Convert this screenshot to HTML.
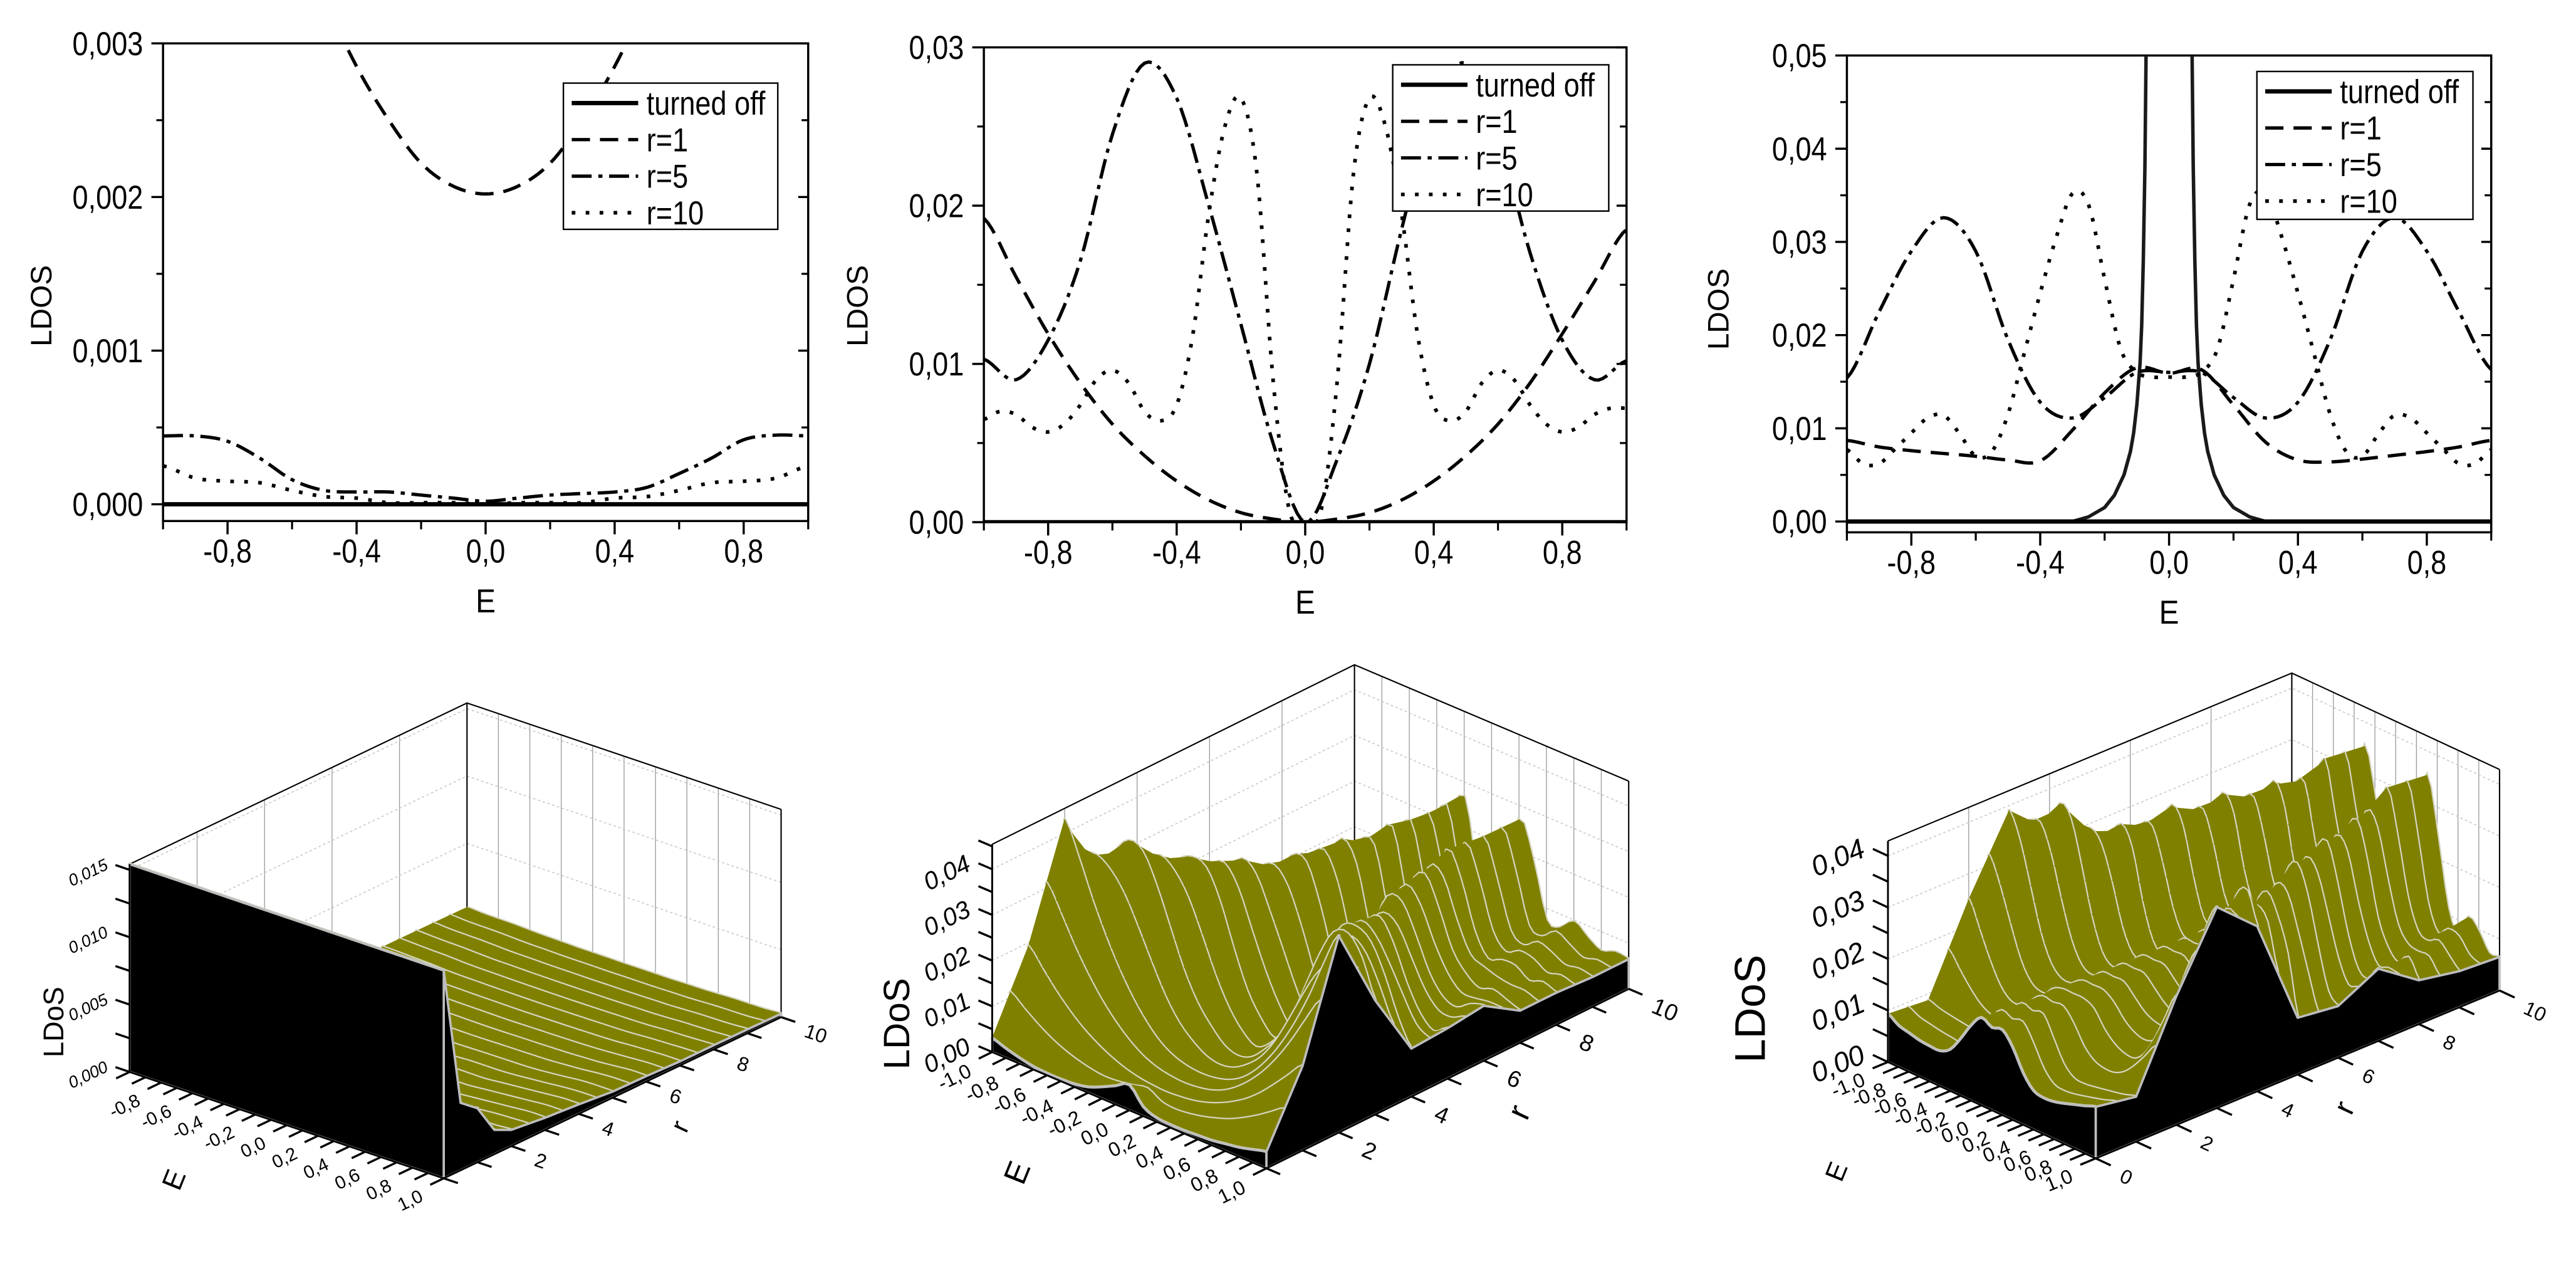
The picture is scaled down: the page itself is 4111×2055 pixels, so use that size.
<!DOCTYPE html>
<html><head><meta charset="utf-8"><title>LDOS plots</title>
<style>html,body{margin:0;padding:0;background:#fff}svg{display:block}</style></head>
<body>
<svg id="fig" xmlns="http://www.w3.org/2000/svg" width="4111" height="2055" viewBox="0 0 1550 775" preserveAspectRatio="none" font-family="Liberation Sans, sans-serif">
<rect x="0" y="0" width="1550" height="775" fill="#fff"/>
</svg>
<script>
// ---------- DATA: 2D plots ----------
const E10 = [-1,-0.9,-0.8,-0.7,-0.6,-0.5,-0.4,-0.3,-0.2,-0.1,0,0.1,0.2,0.3,0.4,0.5,0.6,0.7,0.8,0.9,1];
const E05 = [-1,-0.95,-0.9,-0.85,-0.8,-0.75,-0.7,-0.65,-0.6,-0.55,-0.5,-0.45,-0.4,-0.35,-0.3,-0.25,-0.2,-0.15,-0.1,-0.05,0,0.05,0.1,0.15,0.2,0.25,0.3,0.35,0.4,0.45,0.5,0.55,0.6,0.65,0.7,0.75,0.8,0.85,0.9,0.95,1];
const legendLabels = ["turned off","r=1","r=5","r=10"];

const p1OffE = [-1,1];
const p1OffV = [0,0];
const p1R1 = [.0070,.0061,.0052,.0045,.0039,.0033,.00285,.0025,.00222,.00207,.00202,.00207,.00222,.0025,.00285,.0033,.0039,.0045,.0052,.0061,.0070];
const p1R5 = [.000445,.000445,.00041,.0003,.00016,.00009,.00008,.00008,.00006,.00004,.00002,.00004,.00006,.00007,.00008,.00011,.0002,.0003,.00042,.00045,.000445];
const p1R10 = [.00025,.00017,.00015,.00014,.00009,.00005,.00004,.00001,.00001,.00001,0,.00001,.00001,.00001,.00004,.00005,.00009,.00014,.00015,.00017,.00025];
const p1YTicks = [0,0.001,0.002,0.003];
const p1YLabels = ["0,000","0,001","0,002","0,003"];

const p2OffE = [-1,1];
const p2OffV = [0,0];
const p2R1 = [.0192,.0155,.0119,.0088,.0062,.0042,.0026,.0014,.0006,.0002,0,.0002,.0006,.0014,.0026,.0042,.0062,.0088,.0119,.0152,.0185];
const p2R5 = [.0103,.0090,.0115,.0165,.0245,.0290,.0268,.0200,.0125,.0050,0,.0040,.0100,.0185,.0262,.0290,.0245,.0170,.0115,.0090,.0102];
const p2R10 = [.0065,.0070,.0068,.0060,.0057,.0062,.0074,.0090,.0096,.0088,.0070,.0064,.0074,.0118,.0195,.0250,.0268,.0220,.0090,.0008,0,.0008,.0090,.0220,.0268,.0250,.0195,.0118,.0074,.0064,.0070,.0088,.0096,.0090,.0074,.0062,.0057,.0060,.0068,.0072,.0072];
const p2YTicks = [0,0.01,0.02,0.03];
const p2YLabels = ["0,00","0,01","0,02","0,03"];

const p3OffE = [-1,-0.3,-0.25,-0.2,-0.17,-0.14,-0.12,-0.11,-0.1,-0.09,-0.085,-0.08,-0.075,-0.07,0,0.07,0.075,0.08,0.085,0.09,0.1,0.11,0.12,0.14,0.17,0.2,0.25,0.3,1];
const p3OffV = [0,0,.0005,.0015,.0028,.005,.0075,.0095,.0125,.017,.021,.028,.038,.055,.3,.055,.038,.028,.021,.017,.0125,.0095,.0075,.005,.0028,.0015,.0005,0,0];
const p3R1 = [.0087,.0080,.0076,.0073,.0070,.0066,.0065,.0098,.0138,.0165,.0159,.0163,.0125,.0085,.0066,.0064,.0067,.0071,.0075,.0080,.0087];
const p3R5 = [.0154,.0225,.0290,.0326,.0290,.0195,.0128,.0111,.0133,.0160,.0160,.0160,.0133,.0111,.0128,.0195,.0290,.0326,.0290,.0225,.0163];
const p3R10 = [.0077,.0062,.0062,.0078,.0095,.0111,.0114,.0094,.0070,.0075,.0115,.0180,.0245,.0305,.0352,.0340,.0260,.0185,.0160,.0155,.0155,.0155,.0160,.0185,.0260,.0340,.0352,.0305,.0245,.0180,.0115,.0075,.0070,.0094,.0114,.0111,.0095,.0078,.0062,.0062,.0077];
const p3YTicks = [0,0.01,0.02,0.03,0.04,0.05];
const p3YLabels = ["0,00","0,01","0,02","0,03","0,04","0,05"];

const xTicks = [-0.8,-0.4,0,0.4,0.8];
const xLabels = ["-0,8","-0,4","0,0","0,4","0,8"];

// ---------- DATA: 3D surfaces ----------
const s4R = [0,0.5,1,1.5,2,3,4,5,6,7,8,9,10];
const s4Rows = [
 [.0155,.0155,.0155,.0155,.0155,.0155,.0155,.0155,.0155,.0155,.0155,.0155,.0155,.0155,.0155,.0155,.0155,.0155,.0155,.0155,.0155],
 [.0050,.0048,.0046,.0045,.0044,.0043,.0042,.0042,.0041,.0041,.0041,.0041,.0041,.0042,.0042,.0043,.0044,.0045,.0046,.0048,.0050],
 [.0040,.0036,.0032,.0029,.0027,.0025,.0024,.0022,.0021,.0020,.0020,.0020,.0021,.0022,.0024,.0025,.0027,.0029,.0032,.0036,.0040],
 [.0018,.0017,.0016,.0015,.0014,.0013,.0012,.0011,.0011,.0010,.0010,.0010,.0011,.0011,.0012,.0013,.0014,.0015,.0016,.0017,.0018],
 [.0012,.0011,.0011,.0010,.0009,.0008,.0008,.0007,.0007,.0006,.0006,.0006,.0007,.0007,.0008,.0008,.0009,.0010,.0011,.0011,.0012],
 [.0009,.0009,.0008,.0007,.0006,.0005,.0004,.0004,.0003,.0003,.0003,.0003,.0003,.0004,.0004,.0005,.0006,.0007,.0008,.0009,.0009],
 [.0007,.0007,.0006,.0005,.0004,.0003,.0002,.0002,.0002,.0001,.0001,.0001,.0002,.0002,.0002,.0003,.0004,.0005,.0006,.0007,.0007],
 [.000445,.000445,.00041,.0003,.00016,.00009,.00008,.00008,.00006,.00004,.00002,.00004,.00006,.00007,.00008,.00011,.0002,.0003,.00042,.00045,.000445],
 [.0004,.0004,.0003,.0002,.00015,.0001,.00008,.00006,.00005,.00003,.00002,.00003,.00005,.00006,.00008,.0001,.00015,.0002,.0003,.0004,.0004],
 [.0003,.0003,.00025,.0002,.00012,.00008,.00006,.00004,.00003,.00002,.00001,.00002,.00003,.00004,.00006,.00008,.00012,.0002,.00025,.0003,.0003],
 [.0003,.00025,.0002,.00017,.0001,.00006,.00005,.00003,.00002,.00001,.00001,.00001,.00002,.00003,.00005,.00006,.0001,.00017,.0002,.00025,.0003],
 [.00028,.0002,.00017,.00015,.0001,.00005,.00004,.00002,.00001,.00001,0,.00001,.00001,.00002,.00004,.00005,.0001,.00015,.00017,.0002,.00028],
 [.00025,.00017,.00015,.00014,.00009,.00005,.00004,.00001,.00001,.00001,0,.00001,.00001,.00001,.00004,.00005,.00009,.00014,.00015,.00017,.00025]
];
const s5R = [0,1,2,3,4,5,6,7,8,9,10];
const s5Rows = [
 [.0030,.0020,.0012,.0006,.0004,.0004,.0006,.0012,.0025,.0040,.0055,.0020,.0008,.0006,.0006,.0008,.0010,.0015,.0020,.0028,.0036],
 [.0192,.0155,.0119,.0088,.0062,.0042,.0026,.0014,.0006,.0002,0,.0002,.0006,.0014,.0026,.0042,.0062,.0088,.0119,.0152,.0185],
 [.0430,.0360,.0280,.0210,.0150,.0100,.0060,.0030,.0012,.0003,0,.0003,.0012,.0030,.0060,.0100,.0150,.0210,.0280,.0360,.0430],
 [.0250,.0330,.0370,.0360,.0300,.0220,.0140,.0080,.0040,.0010,0,.0010,.0040,.0080,.0140,.0220,.0300,.0360,.0370,.0330,.0250],
 [.0105,.0160,.0240,.0300,.0320,.0310,.0250,.0160,.0080,.0030,0,.0030,.0080,.0160,.0250,.0310,.0320,.0300,.0240,.0160,.0105],
 [.0103,.0090,.0115,.0165,.0245,.0290,.0268,.0200,.0125,.0050,0,.0040,.0100,.0185,.0262,.0290,.0245,.0170,.0115,.0090,.0110],
 [.0120,.0110,.0090,.0100,.0140,.0210,.0270,.0270,.0190,.0080,0,.0080,.0190,.0270,.0270,.0210,.0140,.0100,.0090,.0110,.0120],
 [.0100,.0080,.0090,.0080,.0100,.0140,.0220,.0280,.0240,.0110,0,.0110,.0240,.0280,.0220,.0140,.0100,.0080,.0090,.0080,.0070],
 [.0070,.0080,.0070,.0090,.0090,.0080,.0130,.0230,.0280,.0140,0,.0140,.0280,.0230,.0130,.0080,.0090,.0090,.0070,.0080,.0070],
 [.0065,.0070,.0065,.0080,.0090,.0070,.0090,.0190,.0270,.0160,0,.0160,.0270,.0190,.0090,.0070,.0090,.0080,.0065,.0070,.0065],
 [.0065,.0068,.0057,.0074,.0096,.0070,.0074,.0195,.0268,.0090,0,.0090,.0268,.0195,.0074,.0070,.0096,.0074,.0057,.0068,.0065]
];
const s6R = [0,1,2,3,4,5,6,7,8,9,10];
const s6Rows = [
 [.0093,.0080,.0075,.0070,.0068,.0068,.0080,.0110,.0145,.0170,.0160,.0165,.0140,.0100,.0075,.0070,.0072,.0078,.0085,.0092,.0100],
 [.0087,.0080,.0076,.0073,.0070,.0066,.0065,.0098,.0138,.0165,.0159,.0163,.0125,.0085,.0066,.0064,.0067,.0071,.0075,.0080,.0087],
 [.0250,.0200,.0150,.0110,.0090,.0090,.0100,.0120,.0150,.0160,.0160,.0160,.0150,.0120,.0100,.0090,.0090,.0110,.0150,.0200,.0250],
 [.0390,.0340,.0260,.0180,.0130,.0110,.0110,.0120,.0140,.0160,.0160,.0160,.0140,.0120,.0110,.0110,.0130,.0180,.0260,.0340,.0390],
 [.0320,.0380,.0360,.0280,.0190,.0130,.0110,.0120,.0140,.0160,.0160,.0160,.0140,.0120,.0110,.0130,.0190,.0280,.0360,.0380,.0320],
 [.0154,.0225,.0290,.0326,.0290,.0195,.0128,.0111,.0133,.0160,.0160,.0160,.0133,.0111,.0128,.0195,.0290,.0326,.0290,.0225,.0110],
 [.0100,.0120,.0200,.0290,.0340,.0310,.0220,.0150,.0140,.0160,.0160,.0160,.0140,.0150,.0220,.0310,.0340,.0290,.0200,.0120,.0100],
 [.0140,.0110,.0120,.0180,.0270,.0340,.0310,.0210,.0150,.0160,.0160,.0160,.0150,.0210,.0310,.0340,.0270,.0180,.0120,.0110,.0140],
 [.0090,.0120,.0100,.0120,.0170,.0270,.0340,.0300,.0190,.0160,.0160,.0160,.0190,.0300,.0340,.0270,.0170,.0120,.0100,.0120,.0085],
 [.0070,.0090,.0110,.0100,.0110,.0170,.0280,.0360,.0260,.0170,.0160,.0170,.0260,.0360,.0280,.0170,.0110,.0100,.0110,.0090,.0070],
 [.0077,.0062,.0095,.0114,.0070,.0115,.0245,.0352,.0260,.0160,.0155,.0160,.0260,.0352,.0245,.0115,.0070,.0114,.0095,.0062,.0065]
];
const s4ZTicks = [0,0.005,0.010,0.015];
const s4ZLabels = ["0,000","0,005","0,010","0,015"];
const s5ZTicks = [0,0.01,0.02,0.03,0.04];
const s5ZLabels = ["0,00","0,01","0,02","0,03","0,04"];
const s6ZTicks = [0,0.01,0.02,0.03,0.04];
const s6ZLabels = ["0,00","0,01","0,02","0,03","0,04"];
const eTickVals = [-1,-0.8,-0.6,-0.4,-0.2,0,0.2,0.4,0.6,0.8,1];
const eTickLabels = ["-1,0","-0,8","-0,6","-0,4","-0,2","0,0","0,2","0,4","0,6","0,8","1,0"];
const rTickVals = [0,2,4,6,8,10];
const rTickLabels = ["0","2","4","6","8","10"];

// ---------- helpers ----------
const NS = 'http://www.w3.org/2000/svg';
const svg = document.getElementById('fig');
function mk(tag, attrs, parent){ const e=document.createElementNS(NS,tag); for(const k in attrs) e.setAttribute(k,attrs[k]); (parent||svg).appendChild(e); return e; }
function txt(parent, x, y, s, size, anchor, rot, sx, extra){
  const t = mk('text',{'font-size':size,'text-anchor':anchor||'middle',transform:`translate(${x.toFixed(2)},${y.toFixed(2)}) rotate(${rot||0}) scale(${sx||1},1)`,fill:'#000'},parent);
  if(extra) for(const k in extra) t.setAttribute(k,extra[k]);
  t.textContent = s; return t;
}
function crSample(xs, ys, n){
  const X=[],Y=[];
  for(let i=0;i<xs.length-1;i++){
    const p0=ys[Math.max(0,i-1)],p1=ys[i],p2=ys[i+1],p3=ys[Math.min(ys.length-1,i+2)];
    for(let s=0;s<n;s++){
      const t=s/n,t2=t*t,t3=t2*t;
      const v=0.5*((2*p1)+(-p0+p2)*t+(2*p0-5*p1+4*p2-p3)*t2+(-p0+3*p1-3*p2+p3)*t3);
      X.push(xs[i]+(xs[i+1]-xs[i])*t); Y.push(Math.max(0,v));
    }
  }
  X.push(xs[xs.length-1]); Y.push(ys[ys.length-1]); return [X,Y];
}

// ---------- 2D plot ----------
function plot2D(cfg){
  const g = mk('g',{});
  
  
  const xs = v => cfg.x0 + (v+1)/2*(cfg.x1-cfg.x0);
  const ys = v => cfg.yb + (v-cfg.ymin)/(cfg.ymax-cfg.ymin)*(cfg.yt-cfg.yb);
  const cid = cfg.name+'-clip';
  const cp = mk('clipPath',{id:cid},g);
  mk('rect',{x:cfg.x0,y:cfg.yt,width:cfg.x1-cfg.x0,height:cfg.yb-cfg.yt},cp);
  const frame = mk('rect',{x:cfg.x0,y:cfg.yt,width:cfg.x1-cfg.x0,height:cfg.yb-cfg.yt,fill:'none',stroke:'#000','stroke-width':1.3},g);
  
  
  const step = cfg.yTicks[1]-cfg.yTicks[0];
  for(let i=0;i<cfg.yTicks.length;i++){
    const v=cfg.yTicks[i], y=ys(v);
    const t1 = mk('line',{x1:cfg.x0-7,x2:cfg.x0,y1:y,y2:y,stroke:'#000','stroke-width':1.3},g);
    
    
    const t2 = mk('line',{x1:cfg.x1-6,x2:cfg.x1,y1:y,y2:y,stroke:'#000','stroke-width':1.3},g);
    
    
    const lb = txt(g, cfg.x0-12, y+7, cfg.yLabels[i], 20, 'end', 0, 0.85);
    
    
    const mv = v+step/2;
    if(mv < cfg.ymax){
      const ym=ys(mv);
      const m1 = mk('line',{x1:cfg.x0-4,x2:cfg.x0,y1:ym,y2:ym,stroke:'#000','stroke-width':1.2},g);
      
      
      const m2 = mk('line',{x1:cfg.x1-4,x2:cfg.x1,y1:ym,y2:ym,stroke:'#000','stroke-width':1.2},g);
      
      
    }
  }
  for(let i=0;i<xTicks.length;i++){
    const x=xs(xTicks[i]);
    const t = mk('line',{x1:x,x2:x,y1:cfg.yb,y2:cfg.yb+8,stroke:'#000','stroke-width':1.3},g);
    
    
    const lb = txt(g, x, cfg.yb+25, xLabels[i], 20, 'middle', 0, 0.85);
    
    
  }
  for(let v=-1; v<=1.001; v+=0.4){
    const x=xs(v);
    const t = mk('line',{x1:x,x2:x,y1:cfg.yb,y2:cfg.yb+5,stroke:'#000','stroke-width':1.2},g);
    
    
  }
  const xt = txt(g, (cfg.x0+cfg.x1)/2, cfg.yb+55, 'E', 20, 'middle', 0, 0.9);
  
  
  const yt = txt(g, cfg.ylx, cfg.yly, 'LDOS', 18, 'middle', -90, 1);
  
  
  const styles = [
    {dash:'',w:2.6,col:'#000'},
    {dash:'11 6',w:2,col:'#000'},
    {dash:'12 4 2.5 4',w:2,col:'#000'},
    {dash:'2.2 6.2',w:2.2,col:'#000'}
  ];
  const names = ['series-turned-off','series-r1','series-r5','series-r10'];
  const dg = mk('g',{'clip-path':`url(#${cid})`},g);
  for(let s=0;s<4;s++){
    const sr = cfg.series[s];
    let X=sr.E, Y=sr.V;
    if(sr.smooth){ const r=crSample(sr.E, sr.V, 8); X=r[0]; Y=r[1]; }
    let d='';
    for(let i=0;i<X.length;i++) d += (i?'L':'M') + xs(X[i]).toFixed(2)+','+ys(Y[i]).toFixed(2);
    const st = s===0 && sr.thin ? {dash:'',w:2.1,col:'#1a1a1a'} : styles[s];
    const p = mk('path',{d:d,fill:'none',stroke:st.col,'stroke-width':st.w,'stroke-dasharray':st.dash,'stroke-linejoin':'round'},dg);
    
    
    if(s===0 && sr.thin){
      const p2 = mk('path',{d:'M'+cfg.x0+','+ys(0)+'L'+cfg.x1+','+ys(0),fill:'none',stroke:'#000','stroke-width':2.6},dg);
      
      
    }
  }
  const L = cfg.legend;
  const lg = mk('g',{},g);
  
  
  const lb = mk('rect',{x:L.x,y:L.y,width:L.w,height:L.h,fill:'#fff',stroke:'#000','stroke-width':0.9},lg);
  
  
  for(let s=0;s<4;s++){
    const yy = L.y+12+s*22;
    const ln = mk('line',{x1:L.x+5,x2:L.x+45,y1:yy,y2:yy,stroke:'#000','stroke-width':styles[s].w,'stroke-dasharray':styles[s].dash},lg);
    
    
    const lt = txt(lg, L.x+50, yy+7, legendLabels[s], 20, 'start', 0, 0.85);
    
    
  }
}

plot2D({name:'ldos-plot-1',x0:98.1,x1:486.3,yt:26.1,yb:313.5,ymin:-0.000109,ymax:0.003,yTicks:p1YTicks,yLabels:p1YLabels,ylx:31,yly:184,
  series:[{E:p1OffE,V:p1OffV},{E:E10,V:p1R1,smooth:1},{E:E10,V:p1R5,smooth:1},{E:E10,V:p1R10,smooth:1}],
  legend:{x:339,y:50,w:129,h:88}});
plot2D({name:'ldos-plot-2',x0:592,x1:978.7,yt:28.5,yb:314.2,ymin:0,ymax:0.03,yTicks:p2YTicks,yLabels:p2YLabels,ylx:522,yly:184,
  series:[{E:p2OffE,V:p2OffV},{E:E10,V:p2R1,smooth:1},{E:E10,V:p2R5,smooth:1},{E:E05,V:p2R10,smooth:1}],
  legend:{x:838,y:39,w:130,h:88}});
plot2D({name:'ldos-plot-3',x0:1111.3,x1:1499,yt:33.4,yb:320.3,ymin:-0.00116,ymax:0.05,yTicks:p3YTicks,yLabels:p3YLabels,ylx:1040,yly:186,
  series:[{E:p3OffE,V:p3OffV,thin:1},{E:E10,V:p3R1,smooth:1},{E:E10,V:p3R5,smooth:1},{E:E05,V:p3R10,smooth:1}],
  legend:{x:1358,y:43,w:130,h:89}});

// ---------- 3D surfaces ----------
function surf3D(c){
  const g = mk('g',{});
  
  
  const P = (E,r,z) => [c.O[0]+c.eV[0]*(E+1)/2+c.rV[0]*r/10, c.O[1]+c.eV[1]*(E+1)/2+c.rV[1]*r/10 - z*c.zs];
  const pt = p => p[0].toFixed(2)+','+p[1].toFixed(2);
  const ztop = c.boxPx/c.zs;
  const eL = Math.hypot(c.eV[0],c.eV[1]), rL = Math.hypot(c.rV[0],c.rV[1]);
  const eu=[c.eV[0]/eL,c.eV[1]/eL], ru=[c.rV[0]/rL,c.rV[1]/rL];
  const rAng = Math.atan2(c.rV[1],c.rV[0])*180/Math.PI, eAng = Math.atan2(c.eV[1],c.eV[0])*180/Math.PI;
  for(const rv of [2,4,6,8]){
    const a=P(-1,rv,0), b=P(-1,rv,ztop);
    const l = mk('line',{x1:a[0],y1:a[1],x2:b[0],y2:b[1],stroke:'#9a9a9a','stroke-width':0.5},g);
    
    
  }
  for(let ev=-0.8; ev<=0.81; ev+=0.2){
    const a=P(ev,10,0), b=P(ev,10,ztop);
    const l = mk('line',{x1:a[0],y1:a[1],x2:b[0],y2:b[1],stroke:'#9a9a9a','stroke-width':0.5},g);
    
    
  }
  for(let i=1;i<c.zTicks.length;i++){
    const zv=c.zTicks[i]; if(zv>=ztop) continue;
    const a=P(-1,0,zv), b=P(-1,10,zv), d=P(1,10,zv);
    const l = mk('polyline',{points:pt(a)+' '+pt(b)+' '+pt(d),fill:'none',stroke:'#c8c8c8','stroke-width':0.6,'stroke-dasharray':'1.5 1.5'},g);
    
    
  }
  const bx = mk('polyline',{points:[P(-1,0,ztop),P(-1,10,ztop),P(1,10,ztop)].map(pt).join(' '),fill:'none',stroke:'#000','stroke-width':0.8},g);
  
  
  for(const q of [[-1,10],[1,10]]){
    const a=P(q[0],q[1],0), b=P(q[0],q[1],ztop);
    const l = mk('line',{x1:a[0],y1:a[1],x2:b[0],y2:b[1],stroke:'#000','stroke-width':0.8},g);
    
    
  }
  const RR=[];
  for(let k=0;k<=20;k++){
    const r=k*0.5;
    let j=0; while(j<c.rVals.length-2 && c.rVals[j+1]<r) j++;
    const t=(r-c.rVals[j])/(c.rVals[j+1]-c.rVals[j]);
    const zr=E10.map((_,i)=>c.rows[j][i]*(1-t)+c.rows[j+1][i]*t);
    const f=crSample(E10, zr, 3);
    RR.push({r:r,E:f[0],z:f[1].map(v=>Math.min(v,ztop))});
  }
  const sg = mk('g',{},g);
  
  
  const lineCol='#d4d4c0', olive='#808000';
  const last=RR[RR.length-1];
  let dl='';
  for(let k=0;k<last.E.length;k++) dl+=(k?'L':'M')+pt(P(last.E[k],last.r,last.z[k]));
  const fl = mk('path',{d:dl,fill:'none',stroke:lineCol,'stroke-width':2.1},sg);
  
  
  for(let j=RR.length-2;j>=0;j--){
    const A=RR[j], B=RR[j+1];
    for(let k=0;k<A.E.length-1;k++){
      const p1=P(A.E[k],A.r,A.z[k]), p2=P(A.E[k+1],A.r,A.z[k+1]), p3=P(B.E[k+1],B.r,B.z[k+1]), p4=P(B.E[k],B.r,B.z[k]);
      const q = mk('polygon',{points:[p1,p2,p3,p4].map(pt).join(' '),fill:olive,stroke:olive,'stroke-width':0.4},sg);
      
      
      const l = mk('line',{x1:p1[0],y1:p1[1],x2:p2[0],y2:p2[1],stroke:lineCol,'stroke-width':2.1,'stroke-linecap':'round'},sg);
      
      
    }
  }
  const n=RR[0].E.length-1;
  let sp=[P(1,0,0),P(1,10,0)];
  for(let j=RR.length-1;j>=0;j--) sp.push(P(1,RR[j].r,RR[j].z[n]));
  const sf = mk('polygon',{points:sp.map(pt).join(' '),fill:'#000',stroke:'#bdbdbd','stroke-width':1.4,'stroke-linejoin':'round'},g);
  
  
  let fp=[P(-1,0,0),P(1,0,0)];
  for(let k=n;k>=0;k--) fp.push(P(RR[0].E[k],0,RR[0].z[k]));
  const ff = mk('polygon',{points:fp.map(pt).join(' '),fill:'#000',stroke:'#bdbdbd','stroke-width':1.4,'stroke-linejoin':'round'},g);
  
  
  const za=P(-1,0,0), zb=P(-1,0,ztop);
  const zl = mk('line',{x1:za[0],y1:za[1],x2:zb[0],y2:zb[1],stroke:'#000','stroke-width':1.1},g);
  
  
  const zstep=c.zTicks[1]-c.zTicks[0];
  for(let v=0; v<=ztop+1e-9; v+=zstep/2){
    const a=P(-1,0,v);
    const l = mk('line',{x1:a[0],y1:a[1],x2:a[0]-eu[0]*c.tl,y2:a[1]-eu[1]*c.tl,stroke:'#000','stroke-width':1.3},g);
    
    
  }
  for(let i=0;i<c.zTicks.length;i++){
    const a=P(-1,0,c.zTicks[i]);
    const t = txt(g, a[0]-eu[0]*(c.tl+4), a[1]-eu[1]*(c.tl+4)+c.zfs*0.35, c.zLabels[i], c.zfs, 'end', rAng, 1, {'font-style':'italic'});
    
    
  }
  const ea=P(-1,0,0), eb=P(1,0,0);
  const el = mk('line',{x1:ea[0],y1:ea[1],x2:eb[0],y2:eb[1],stroke:'#000','stroke-width':1.1},g);
  
  
  for(let k=0;k<=20;k++){
    const a=P(-1+k*0.1,0,0);
    const l = mk('line',{x1:a[0],y1:a[1],x2:a[0]-ru[0]*c.tl,y2:a[1]-ru[1]*c.tl,stroke:'#000','stroke-width':1.3},g);
    
    
  }
  for(let i=c.eFirst;i<eTickVals.length;i++){
    const a=P(eTickVals[i],0,0);
    const t = txt(g, a[0]-ru[0]*(c.tl+4), a[1]-ru[1]*(c.tl+4)+c.efs*0.7, eTickLabels[i], c.efs, 'end', rAng, 1);
    
    
  }
  const ra=P(1,0,0), rb=P(1,10,0);
  const rl = mk('line',{x1:ra[0],y1:ra[1],x2:rb[0],y2:rb[1],stroke:'#000','stroke-width':1.1},g);
  
  
  for(let k=0;k<=10;k++){
    const a=P(1,k,0);
    const l = mk('line',{x1:a[0],y1:a[1],x2:a[0]+eu[0]*c.tl,y2:a[1]+eu[1]*c.tl,stroke:'#000','stroke-width':1.3},g);
    
    
  }
  for(let i=c.rFirst;i<rTickVals.length;i++){
    const a=P(1,rTickVals[i],0);
    const t = txt(g, a[0]+eu[0]*(c.tl+5), a[1]+eu[1]*(c.tl+5)+c.rfs*0.6, rTickLabels[i], c.rfs, 'start', eAng, 1);
    
    
  }
  const t1 = txt(g, c.ldos[0], c.ldos[1], 'LDoS', c.ldos[2], 'middle', -90, 1);
  
  
  const t2 = txt(g, c.et[0], c.et[1], 'E', c.et[2], 'middle', -68, 1);
  
  
  const t3 = txt(g, c.rt[0], c.rt[1], 'r', c.rt[2], 'middle', -65, 1);
  
  
}

surf3D({name:'surface-plot-1',O:[78,645],eV:[189,64],rV:[203,-97],zs:8107,boxPx:125,rVals:s4R,rows:s4Rows,
  zTicks:s4ZTicks,zLabels:s4ZLabels,tl:9,zfs:10,efs:11,rfs:12,eFirst:1,rFirst:1,
  ldos:[38,615,17],et:[110,712,17],rt:[414,680,16]});
surf3D({name:'surface-plot-2',O:[597,633],eV:[165,70],rV:[218,-108],zs:2750,boxPx:125,rVals:s5R,rows:s5Rows,
  zTicks:s5ZTicks,zLabels:s5ZLabels,tl:9,zfs:15,efs:12,rfs:14,eFirst:0,rFirst:1,
  ldos:[547,616,22],et:[618,708,19],rt:[920,672,20]});
surf3D({name:'surface-plot-3',O:[1136,639],eV:[125,58],rV:[243,-101],zs:3100,boxPx:133,rVals:s6R,rows:s6Rows,
  zTicks:s6ZTicks,zLabels:s6ZLabels,tl:10,zfs:17,efs:12,rfs:12,eFirst:0,rFirst:0,
  ldos:[1062,607,26],et:[1110,707,16],rt:[1416,669,18]});
</script>
</body></html>
